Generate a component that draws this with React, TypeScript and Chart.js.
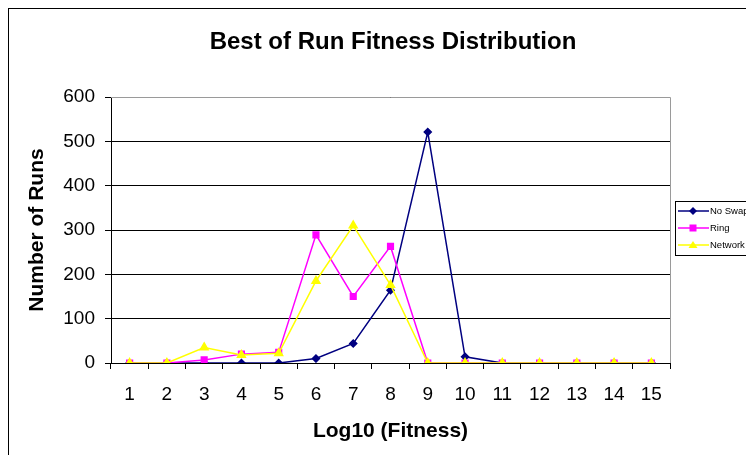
import React, { useEffect, useRef } from "react";
import { Chart, registerables } from "chart.js";

Chart.register(...registerables);

const categories = ["1", "2", "3", "4", "5", "6", "7", "8", "9", "10", "11", "12", "13", "14", "15"];
const noSwap = [0, 0, 0, 0, 0, 10, 44, 164, 521, 14, 0, 0, 0, 0, 0];
const ring = [0, 0, 7, 20, 24, 289, 150, 263, 0, 0, 0, 0, 0, 0, 0];
const network = [0, 0, 35, 18, 22, 185, 310, 176, 0, 0, 0, 0, 0, 0, 0];
const yTicks = [0, 100, 200, 300, 400, 500, 600];
const titleText = "Best of Run Fitness Distribution";

const FONT = "'Liberation Sans', Arial, sans-serif";

const plotBorder = {
  id: "plotBorder",
  afterDraw(chart: any) {
    const { ctx, chartArea } = chart;
    ctx.save();
    ctx.strokeStyle = "#9a9a9a";
    ctx.lineWidth = 1;
    ctx.beginPath();
    ctx.moveTo(chartArea.left, Math.round(chartArea.top) + 0.5);
    ctx.lineTo(Math.round(chartArea.right) + 0.5, Math.round(chartArea.top) + 0.5);
    ctx.lineTo(Math.round(chartArea.right) + 0.5, chartArea.bottom);
    ctx.stroke();
    // main title
    ctx.fillStyle = "#000";
    ctx.font = `bold 24px ${FONT}`;
    ctx.textAlign = "center";
    ctx.textBaseline = "alphabetic";
    ctx.fillText(titleText, 384, 40);
    ctx.restore();
  },
};

const boxLegend = {
  id: "boxLegend",
  afterDraw(chart: any) {
    const { ctx } = chart;
    const x0 = 666;
    const y0 = 192;
    ctx.save();
    ctx.fillStyle = "#fff";
    ctx.fillRect(x0, y0, 200, 54);
    ctx.strokeStyle = "#000";
    ctx.lineWidth = 1;
    ctx.strokeRect(x0 + 0.5, y0 + 0.5, 200, 54);
    ctx.font = `9.5px ${FONT}`;
    ctx.textBaseline = "middle";
    ctx.textAlign = "left";
    chart.data.datasets.forEach((ds: any, i: number) => {
      const y = y0 + 10 + i * 17;
      ctx.strokeStyle = ds.borderColor;
      ctx.lineWidth = 1.5;
      ctx.beginPath();
      ctx.moveTo(x0 + 3, y);
      ctx.lineTo(x0 + 34, y);
      ctx.stroke();
      ctx.fillStyle = ds.pointBackgroundColor;
      const cx = x0 + 18;
      const r = 4;
      ctx.beginPath();
      if (ds.pointStyle === "rectRot") {
        ctx.moveTo(cx, y - r);
        ctx.lineTo(cx + r, y);
        ctx.lineTo(cx, y + r);
        ctx.lineTo(cx - r, y);
      } else if (ds.pointStyle === "rect") {
        ctx.rect(cx - 3.5, y - 3.5, 7, 7);
      } else {
        ctx.moveTo(cx, y - 4);
        ctx.lineTo(cx + 4.5, y + 3);
        ctx.lineTo(cx - 4.5, y + 3);
      }
      ctx.closePath();
      ctx.fill();
      ctx.fillStyle = "#000";
      ctx.fillText(ds.label, x0 + 35, y);
    });
    ctx.restore();
  },
};

export default function App() {
  const ref = useRef<HTMLCanvasElement>(null);
  useEffect(() => {
    if (!ref.current) return;
    const chart = new Chart(ref.current, {
      type: "line",
      data: {
        labels: categories,
        datasets: [
          {
            label: "No Swap",
            data: noSwap,
            borderColor: "#000080",
            backgroundColor: "#000080",
            pointBackgroundColor: "#000080",
            pointBorderColor: "#000080",
            pointStyle: "rectRot",
            pointRadius: 3.5,
            borderWidth: 1.5,
            order: 3,
          },
          {
            label: "Ring",
            data: ring,
            borderColor: "#ff00ff",
            backgroundColor: "#ff00ff",
            pointBackgroundColor: "#ff00ff",
            pointBorderColor: "#ff00ff",
            pointStyle: "rect",
            pointRadius: 4,
            borderWidth: 1.5,
            order: 2,
          },
          {
            label: "Network",
            data: network,
            borderColor: "#ffff00",
            backgroundColor: "#ffff00",
            pointBackgroundColor: "#ffff00",
            pointBorderColor: "#ffff00",
            pointStyle: "triangle",
            pointRadius: 4.5,
            borderWidth: 1.5,
            order: 1,
          },
        ],
      },
      options: {
        animation: false,
        responsive: false,
        maintainAspectRatio: false,
        layout: { padding: { left: 0, right: 84, top: 88, bottom: 0 } },
        plugins: {
          legend: { display: false },
          tooltip: { enabled: false },
          title: { display: false },
        },
        scales: {
          x: {
            type: "category",
            offset: true,
            afterFit(scale: any) {
              scale.height = 92;
            },
            grid: {
              offset: true,
              drawOnChartArea: false,
              drawTicks: true,
              tickLength: 6,
              color: "#000",
            },
            border: { display: true, color: "#000", width: 1 },
            ticks: { color: "#000", font: { family: FONT, size: 19 }, padding: 14, maxRotation: 0, autoSkip: false },
            title: {
              display: true,
              text: "Log10 (Fitness)",
              color: "#000",
              font: { family: FONT, size: 21, weight: "bold" },
              padding: { top: 0, bottom: 11 },
            },
          },
          y: {
            min: 0,
            max: 600,
            afterFit(scale: any) {
              scale.width = 102;
            },
            afterBuildTicks(scale: any) {
              scale.ticks = yTicks.map((v) => ({ value: v }));
            },
            grid: { color: "#000", tickLength: 6, drawTicks: true },
            border: { display: true, color: "#000", width: 1 },
            ticks: { color: "#000", font: { family: FONT, size: 19 }, padding: 10 },
            title: {
              display: true,
              text: "Number of Runs",
              color: "#000",
              font: { family: FONT, size: 21, weight: "bold" },
              padding: { top: 16, bottom: 0 },
            },
          },
        },
      },
      plugins: [plotBorder, boxLegend],
    });
    return () => chart.destroy();
  }, []);
  return (
    <div style={{ width: 745, height: 446, borderLeft: "1px solid #000", borderTop: "1px solid #000", background: "#fff" }}>
      <canvas ref={ref} width={745} height={446} style={{ display: "block" }} />
    </div>
  );
}
